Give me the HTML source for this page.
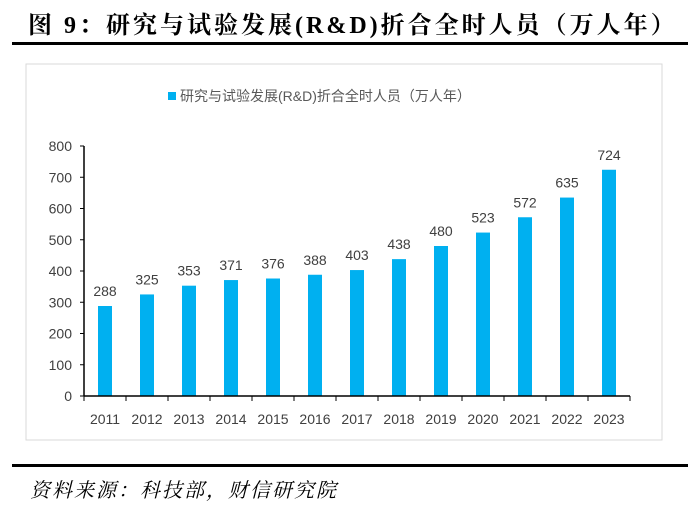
<!DOCTYPE html>
<html><head><meta charset="utf-8">
<style>
body{margin:0;width:700px;height:507px;background:#fff;position:relative;overflow:hidden;font-family:"Liberation Sans","Noto Sans CJK SC",sans-serif}
#title{position:absolute;left:28px;top:5px;font-family:"Liberation Serif","Noto Serif CJK SC",serif;font-weight:bold;font-size:24px;letter-spacing:3px;color:#000;white-space:nowrap}
#tline{position:absolute;left:12px;top:42px;width:676px;height:3px;background:#000}
#bline{position:absolute;left:12px;top:464px;width:676px;height:3px;background:#000}
#src{position:absolute;left:30px;top:474px;font-size:20px;letter-spacing:2px;font-style:italic;font-family:"Liberation Serif","Noto Serif CJK SC",serif;color:#000}
svg{position:absolute;left:0;top:0}
</style></head><body>
<div id="title">图 9：研究与试验发展(R&amp;D)折合全时人员（万人年）</div>
<div id="tline"></div>
<svg id="chart" width="700" height="507">
<rect x="26" y="64" width="636" height="376" fill="#fff" stroke="#d9d9d9"/>
<rect x="168" y="92" width="8" height="8" fill="#00b0f0"/>
<text x="180" y="101" font-size="14" fill="#595959">研究与试验发展(R&amp;D)折合全时人员（万人年）</text>
</svg>
<div id="bline"></div>
<div id="src">资料来源：科技部，财信研究院</div>
<script>
const categories=["2011","2012","2013","2014","2015","2016","2017","2018","2019","2020","2021","2022","2023"];
const values=[288,325,353,371,376,388,403,438,480,523,572,635,724];
const yTicks=[0,100,200,300,400,500,600,700,800];
const svg=document.getElementById('chart');
const NS='http://www.w3.org/2000/svg';
const x0=84,x1=630,y0=396,y1=146,yMax=800;
const band=(x1-x0)/categories.length;
const y=v=>y0-(v/yMax)*(y0-y1);
const xc=i=>x0+band*(i+0.5);
function mk(t,a){const e=document.createElementNS(NS,t);for(const k in a)e.setAttribute(k,a[k]);svg.appendChild(e);return e;}
yTicks.forEach(t=>{
 const tx=mk('text',{x:x0-12,y:y(t)+5,'text-anchor':'end','font-size':14,fill:'#404040'});
 tx.textContent=t;
 
 
 const tk=mk('line',{x1:x0-4,x2:x0,y1:y(t),y2:y(t),stroke:'#000'});
 
 
});
const ya=mk('line',{x1:x0,x2:x0,y1:y1,y2:y0,stroke:'#000','stroke-width':1.5});


categories.forEach((c,i)=>{
 const b=mk('rect',{x:xc(i)-7,y:y(values[i]),width:14,height:y0-y(values[i]),fill:'#00b0f0'});
 
 
 const v=mk('text',{x:xc(i),y:y(values[i])-10,'text-anchor':'middle','font-size':14,fill:'#404040'});
 v.textContent=values[i];
 
 
 const l=mk('text',{x:xc(i),y:y0+28,'text-anchor':'middle','font-size':14,fill:'#404040'});
 l.textContent=c;
 
 
});
for(let i=0;i<=categories.length;i++){
 const t=mk('line',{x1:x0+band*i,x2:x0+band*i,y1:y0,y2:y0+5,stroke:'#000'});
 
 
}
const xa=mk('line',{x1:x0,x2:x1,y1:y0,y2:y0,stroke:'#000','stroke-width':1.5});


</script>
</body></html>
